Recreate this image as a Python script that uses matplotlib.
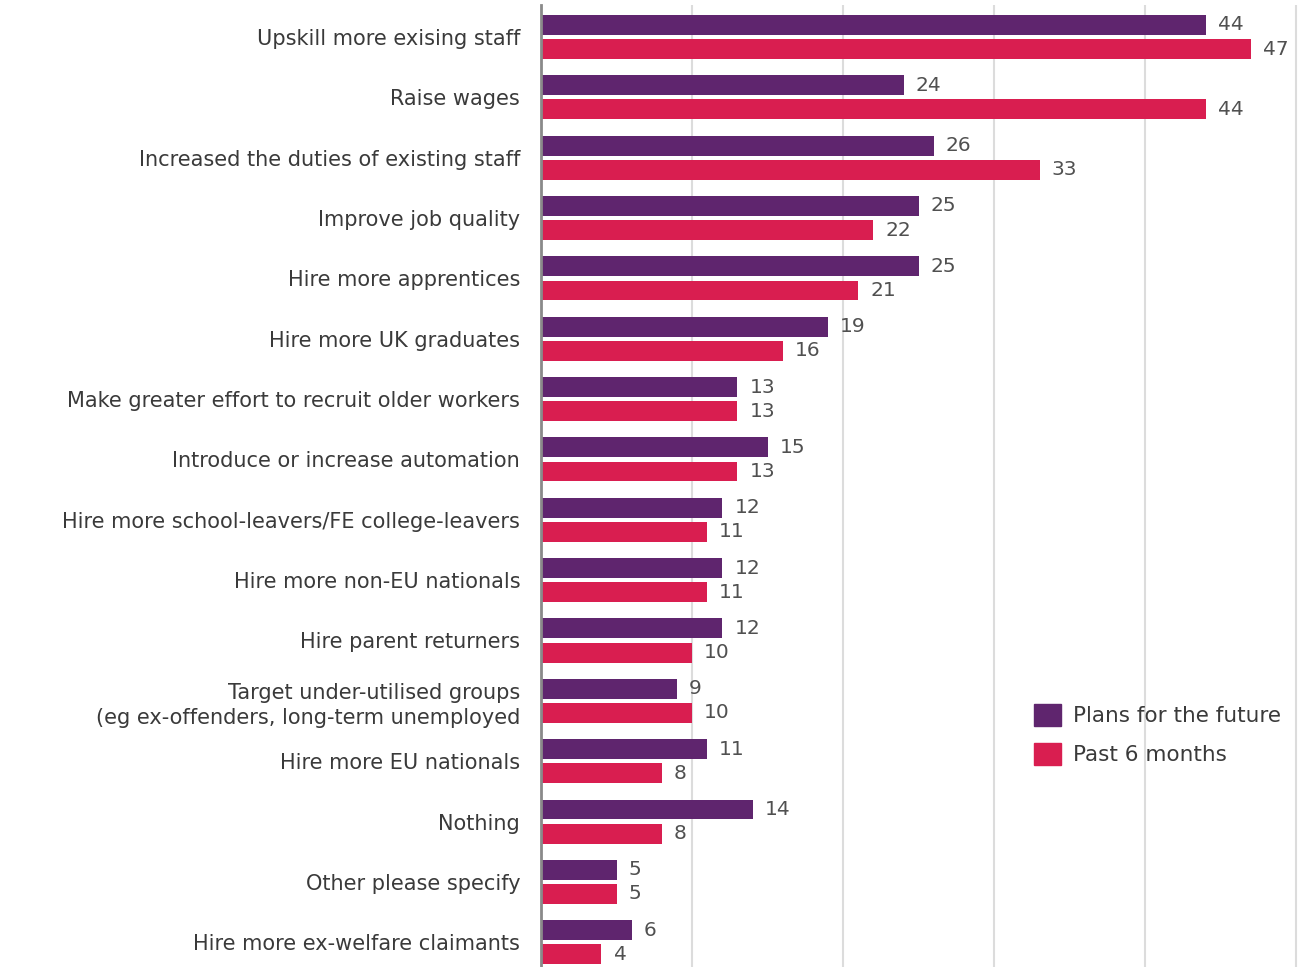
import matplotlib.pyplot as plt
from matplotlib.patches import Patch
import numpy as np

categories = ['Upskill more exising staff',
              'Raise wages',
              'Increased the duties of existing staff',
              'Improve job quality',
              'Hire more apprentices',
              'Hire more UK graduates',
              'Make greater effort to recruit older workers',
              'Introduce or increase automation',
              'Hire more school-leavers/FE college-leavers',
              'Hire more non-EU nationals',
              'Hire parent returners',
              'Target under-utilised groups\n(eg ex-offenders, long-term unemployed',
              'Hire more EU nationals',
              'Nothing',
              'Other please specify',
              'Hire more ex-welfare claimants']
future = [44, 24, 26, 25, 25, 19, 13, 15, 12, 12, 12, 9, 11, 14, 5, 6]
past = [47, 44, 33, 22, 21, 16, 13, 13, 11, 11, 10, 10, 8, 8, 5, 4]
series_names = ['Plans for the future', 'Past 6 months']

PURPLE = '#5f256e'
RED = '#d91e50'
TEXT = '#3a3a3a'
VALUE = '#505050'

plt.rc('font', family='DejaVu Sans')
fig = plt.figure(figsize=(12.99, 9.67), dpi=100)
ax = fig.add_axes([541 / 1299, 0.0, 757 / 1299, 1 - 5 / 967])

y = np.arange(len(categories))
h = 0.33
off = 0.2
ax.barh(y - off, future, height=h, color=PURPLE, zorder=3)
ax.barh(y + off, past, height=h, color=RED, zorder=3)

for yi, v in zip(y, future):
    ax.text(v + 0.8, yi - off, str(v), va='center', ha='left',
            fontsize=14.5, color=VALUE)
for yi, v in zip(y, past):
    ax.text(v + 0.8, yi + off, str(v), va='center', ha='left',
            fontsize=14.5, color=VALUE)

ax.set_xlim(0, 50.1)
ax.set_ylim(len(categories) - 1 + 0.41, -0.53)
ax.set_xticks([10, 20, 30, 40, 50])
ax.xaxis.grid(True, color='#dcdcdc', linewidth=1.5, zorder=0)
ax.tick_params(axis='x', length=0, labelbottom=False)
ax.tick_params(axis='y', length=0, pad=15)
ax.set_yticks(y)
ax.set_yticklabels(categories, fontsize=15, color=TEXT, linespacing=1.3)

for s in ['top', 'right', 'bottom']:
    ax.spines[s].set_visible(False)
ax.spines['left'].set_color('#8a8a8a')
ax.spines['left'].set_linewidth(2)
ax.spines['left'].set_zorder(4)

handles = [Patch(color=PURPLE), Patch(color=RED)]
fig.legend(handles, series_names, loc='upper left',
           bbox_to_anchor=(1025 / 1299, 1 - 695 / 967), frameon=False,
           fontsize=15.5, labelcolor=TEXT, handlelength=1.25, handleheight=1.25,
           handletextpad=0.6, labelspacing=0.75, borderaxespad=0)

plt.savefig('out.png', dpi=100)
